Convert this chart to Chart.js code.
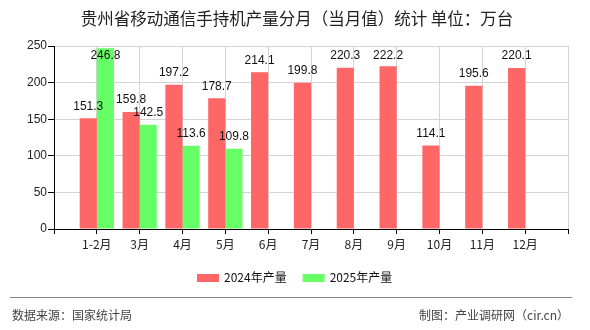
<!DOCTYPE html>
<html>
<head>
<meta charset="utf-8">
<script src="https://cdn.jsdelivr.net/npm/chart.js@4.4.1/dist/chart.umd.min.js"></script>
<style>
  html, body { margin: 0; padding: 0; background: #fff; }
  canvas { display: block; }
</style>
</head>
<body>
<canvas id="monthChart" width="590" height="330"></canvas>
<script>
// Données du graphique
const titleText = '贵州省移动通信手持机产量分月（当月值）统计 单位：万台';
const months = ['1-2月', '3月', '4月', '5月', '6月', '7月', '8月', '9月', '10月', '11月', '12月'];
const values2024 = [151.3, 159.8, 197.2, 178.7, 214.1, 199.8, 220.3, 222.2, 114.1, 195.6, 220.1];
const values2025 = [246.8, 142.5, 113.6, 109.8];
const seriesNames = ['2024年产量', '2025年产量'];
const yTicks = [0, 50, 100, 150, 200, 250];
const sourceText = '数据来源：国家统计局';
const creditText = '制图：产业调研网（cir.cn）';

const red = '#ff6666';
const green = '#66ff66';
const cjk = '"Noto Sans CJK SC", sans-serif';

// Une case vide de chaque côté : les mois tombent sur les graduations
const labels = ['', ...months, ''];
const pad = (arr) => {
    const out = [null];
    for (let i = 0; i < months.length; i++) out.push(i < arr.length ? arr[i] : null);
    out.push(null);
    return out;
};

// Étiquettes de valeurs, titre, légende et pied de page
const decorPlugin = {
    id: 'decor',
    afterDatasetsDraw(chart) {
        const ctx = chart.ctx;
        const area = chart.chartArea;
        ctx.save();
        ctx.font = '12px "Liberation Sans", sans-serif';
        ctx.fillStyle = '#111';
        ctx.textAlign = 'center';
        ctx.textBaseline = 'middle';
        chart.data.datasets.forEach((ds, i) => {
            chart.getDatasetMeta(i).data.forEach((el, j) => {
                const v = ds.data[j];
                if (v === null || v === undefined) return;
                const y = Math.max(el.y - 12, area.top + 10);
                ctx.fillText(v.toFixed(1), el.x, y);
            });
        });
        ctx.restore();
    },
    afterDraw(chart) {
        const ctx = chart.ctx;
        ctx.save();
        // titre
        ctx.font = '16.5px ' + cjk;
        ctx.fillStyle = '#222';
        ctx.textAlign = 'center';
        ctx.textBaseline = 'middle';
        ctx.fillText(titleText, 297, 19);

        // légende
        ctx.font = '12px ' + cjk;
        ctx.textAlign = 'left';
        let x = 197;
        chart.data.datasets.forEach((ds) => {
            ctx.fillStyle = ds.backgroundColor;
            ctx.fillRect(x, 274, 22, 8);
            ctx.fillStyle = '#111';
            ctx.fillText(ds.label, x + 27, 277);
            x += 27 + ctx.measureText(ds.label).width + 16;
        });

        // pied de page
        ctx.strokeStyle = '#888';
        ctx.lineWidth = 1;
        ctx.beginPath();
        ctx.moveTo(10, 297.5);
        ctx.lineTo(572, 297.5);
        ctx.stroke();
        ctx.fillStyle = '#444';
        ctx.font = '12px ' + cjk;
        ctx.textAlign = 'left';
        ctx.fillText(sourceText, 12, 315);
        ctx.textAlign = 'right';
        ctx.fillText(creditText, 569, 315);
        ctx.restore();
    }
};

const ctx = document.getElementById('monthChart').getContext('2d');
new Chart(ctx, {
    type: 'bar',
    data: {
        labels: labels,
        datasets: [
            { label: seriesNames[0], data: pad(values2024), backgroundColor: red },
            { label: seriesNames[1], data: pad(values2025), backgroundColor: green }
        ]
    },
    options: {
        responsive: false,
        animation: false,
        devicePixelRatio: 1,
        layout: { padding: { left: 0, right: 22, top: 46, bottom: 77 } },
        datasets: { bar: { categoryPercentage: 0.8, barPercentage: 1.0 } },
        plugins: {
            legend: { display: false },
            title: { display: false },
            tooltip: { enabled: false }
        },
        scales: {
            x: {
                offset: false,
                afterFit(scale) { scale.height = 24; },
                grid: { color: '#d4d4d4', tickColor: '#000', tickLength: 5, offset: false },
                border: { color: '#000', width: 1 },
                ticks: {
                    autoSkip: false,
                    maxRotation: 0,
                    padding: 3,
                    color: '#222',
                    font: { size: 12, family: cjk }
                }
            },
            y: {
                min: yTicks[0],
                max: yTicks[yTicks.length - 1],
                afterFit(scale) { scale.width = 54; },
                afterBuildTicks(scale) { scale.ticks = yTicks.map(v => ({ value: v })); },
                grid: { color: '#d4d4d4', tickColor: '#000', tickLength: 6 },
                border: { color: '#000', width: 1 },
                ticks: {
                    padding: 1,
                    color: '#222',
                    font: { size: 12, family: '"Liberation Sans", sans-serif' }
                }
            }
        }
    },
    plugins: [decorPlugin]
});
</script>
</body>
</html>
